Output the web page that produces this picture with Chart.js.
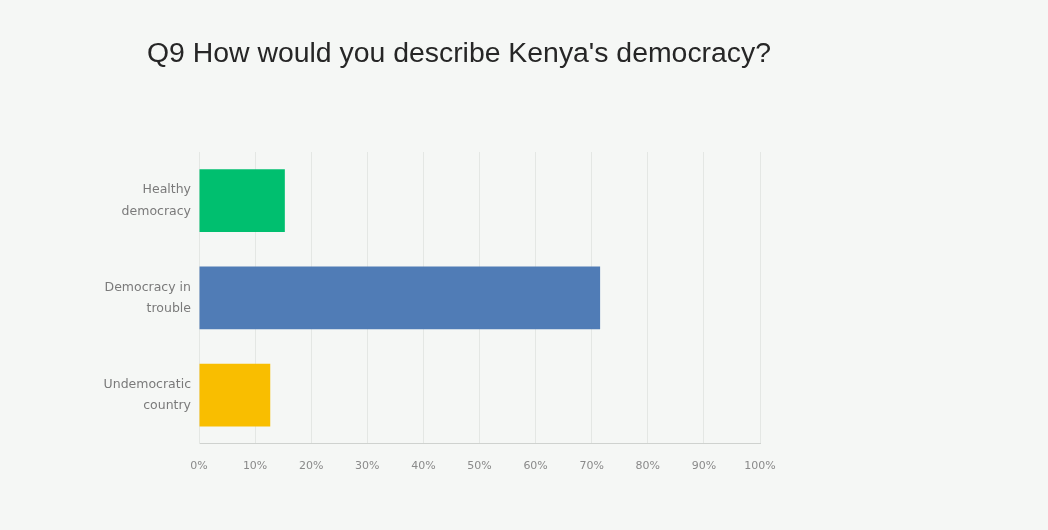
<!DOCTYPE html>
<html>
<head>
<meta charset="utf-8">
<script src="https://cdn.jsdelivr.net/npm/chart.js@4"></script>
<style>
  html, body { margin: 0; padding: 0; background: #f5f7f5; }
  #wrap { width: 1048px; height: 530px; position: relative; }
  #title {
    position: absolute; left: 147px; top: 36px; margin: 0;
    font: normal 28.4px 'Liberation Sans', Arial, sans-serif; color: #262626;
    white-space: nowrap;
  }
</style>
</head>
<body>
<div id="wrap">
  <h1 id="title">Q9 How would you describe Kenya's democracy?</h1>
  <canvas id="surveyChart"></canvas>
</div>
<script>
const answers = [['Healthy', 'democracy'], ['Democracy in', 'trouble'], ['Undemocratic', 'country']];
const shares = [15.3, 71.5, 12.7];
const barColors = ['#00bf6f', '#507cb6', '#f9be00'];
const tickLabels = ['0%', '10%', '20%', '30%', '40%', '50%', '60%', '70%', '80%', '90%', '100%'];

const chart = new Chart(document.getElementById('surveyChart'), {
  type: 'bar',
  data: {
    labels: answers,
    datasets: [{
      data: shares,
      backgroundColor: barColors,
      barPercentage: 0.646,
      categoryPercentage: 1,
    }],
  },
  options: {
    indexAxis: 'y',
    responsive: true,
    maintainAspectRatio: false,
    animation: false,
    layout: { padding: { left: 0, right: 288, top: 152, bottom: 41 } },
    plugins: {
      legend: { display: false },
      tooltip: { enabled: false },
    },
    scales: {
      x: {
        min: 0,
        max: 100,
        ticks: {
          stepSize: 10,
          color: '#8a8a8a',
          padding: 16,
          font: { family: 'DejaVu Sans', size: 11 },
          callback: (v, i) => tickLabels[i],
        },
        grid: { color: '#e4e7e4', drawTicks: false },
        border: { color: '#cfd2cf' },
      },
      y: {
        afterFit: (scale) => { scale.width = 199; },
        ticks: {
          color: '#7a7a7a',
          padding: 8,
          font: { family: 'DejaVu Sans', size: 12.5, lineHeight: 1.7 },
        },
        grid: { display: false, drawTicks: false },
        border: { color: '#e4e7e4' },
      },
    },
  },
});
</script>
</body>
</html>
